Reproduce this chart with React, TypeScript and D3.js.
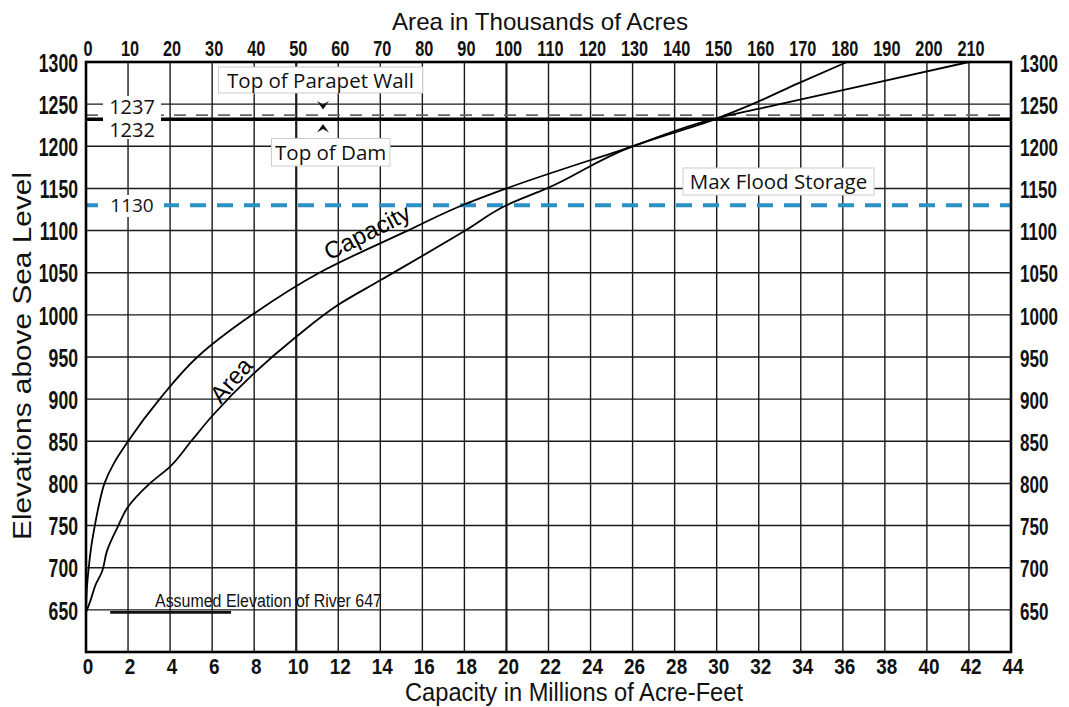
import React from "react";
import * as d3 from "d3";

// ---- data ----
const elevTicks = [650, 700, 750, 800, 850, 900, 950, 1000, 1050, 1100, 1150, 1200, 1250, 1300];
const capTicks = [0, 2, 4, 6, 8, 10, 12, 14, 16, 18, 20, 22, 24, 26, 28, 30, 32, 34, 36, 38, 40, 42, 44];
const areaTicks = [0, 10, 20, 30, 40, 50, 60, 70, 80, 90, 100, 110, 120, 130, 140, 150, 160, 170, 180, 190, 200, 210];

const capacityElev = [647, 675, 700, 725, 750, 775, 800, 825, 850, 900, 950, 1000, 1050, 1100, 1130, 1150, 1200, 1232, 1250, 1275, 1300];
const capacityMAF = [0, 0.04, 0.13, 0.25, 0.42, 0.62, 0.88, 1.35, 2.0, 3.5, 5.3, 7.9, 11.1, 15.3, 17.9, 20.0, 26.0, 29.8, 33.0, 37.5, 42.0];

const areaElev = [647, 660, 680, 694, 720, 750, 770, 800, 820, 850, 880, 930, 974, 1012, 1041, 1100, 1130, 1150, 1200, 1232, 1250, 1275, 1300];
const areaKAcres = [0, 1.0, 2.3, 3.7, 5.0, 7.7, 9.7, 15.2, 20, 25, 30, 39.8, 50, 60, 70, 90.2, 100, 109.6, 130, 149.5, 158.5, 169.5, 181];

const parapetElev = 1237;
const damElev = 1232;
const floodElev = 1130;
const riverElev = 647;

const SANS = "'Liberation Sans', Arial, sans-serif";
const NOTE = "'Open Sans', 'Noto Sans', sans-serif";

export default function App() {
  const L = 86, R = 1011, T = 62, B = 652;
  const x = d3.scaleLinear().domain([0, 44]).range([L, R]);
  const xa = d3.scaleLinear().domain([0, 220]).range([L, R]);
  const y = d3.scaleLinear().domain([600, 1300]).range([B, T]);

  const capLine = d3
    .line<number>()
    .x((d, i) => x(capacityMAF[i]))
    .y((d) => y(d))
    .curve(d3.curveMonotoneY);
  const areaLine = d3
    .line<number>()
    .x((d, i) => xa(areaKAcres[i]))
    .y((d) => y(d))
    .curve(d3.curveMonotoneY);

  const ink = "#1a1a1a";

  return (
    <svg width={1069} height={707} style={{ position: "absolute", left: 0, top: 0, background: "#fff" }}>
      <rect x={0} y={0} width={1069} height={707} fill="#fff" />
      {/* vertical grid */}
      {capTicks.slice(1, -1).map((c) => (
        <line key={"v" + c} x1={x(c)} x2={x(c)} y1={T} y2={B} stroke={ink}
          strokeWidth={c === 10 || c === 20 ? 2.2 : 1.4} />
      ))}
      {/* horizontal grid */}
      {elevTicks.slice(0, -1).map((e) => (
        <line key={"h" + e} x1={L} x2={R} y1={y(e)} y2={y(e)} stroke={ink} strokeWidth={1.4} />
      ))}
      {/* parapet, dam */}
      <line x1={L} x2={R} y1={y(parapetElev)} y2={y(parapetElev)} stroke="#666" strokeWidth={1.6} strokeDasharray="12 10" />
      <line x1={L} x2={R} y1={y(damElev)} y2={y(damElev)} stroke="#000" strokeWidth={3.5} />
      {/* flood storage */}
      <line x1={L} x2={R} y1={y(floodElev)} y2={y(floodElev)} stroke="#2b90c6" strokeWidth={4} strokeDasharray="16 11" strokeDashoffset={4} />

      {/* curves */}
      <path d={capLine(capacityElev) || ""} fill="none" stroke="#000" strokeWidth={1.8} />
      <path d={areaLine(areaElev) || ""} fill="none" stroke="#000" strokeWidth={1.8} />

      {/* frame */}
      <rect x={L} y={T} width={R - L} height={B - T} fill="none" stroke="#000" strokeWidth={2.6} />

      {/* 1237 / 1232 labels */}
      <rect x={103} y={96} width={58} height={43} fill="#fff" />
      <text x={132} y={106} fontFamily={NOTE} fontSize={20} textAnchor="middle" dominantBaseline="central" fill="#111">{parapetElev}</text>
      <text x={132} y={129} fontFamily={NOTE} fontSize={20} textAnchor="middle" dominantBaseline="central" fill="#111">{damElev}</text>

      {/* 1130 label */}
      <rect x={98} y={195} width={66} height={22} fill="#fff" />
      <text x={132} y={y(floodElev)} fontFamily={NOTE} fontSize={19} textAnchor="middle" dominantBaseline="central" fill="#111">{floodElev}</text>

      {/* annotation boxes */}
      <rect x={218.5} y={67} width={204} height={26} fill="#fff" stroke="#ccc" strokeWidth={1} />
      <text x={320.5} y={80} fontFamily={NOTE} fontSize={20.5} textAnchor="middle" dominantBaseline="central" fill="#111">Top of Parapet Wall</text>
      <rect x={271.5} y={138.5} width={118.5} height={27.5} fill="#fff" stroke="#ccc" strokeWidth={1} />
      <text x={330.7} y={152} fontFamily={NOTE} fontSize={20.5} textAnchor="middle" dominantBaseline="central" fill="#111">Top of Dam</text>
      <rect x={683} y={168} width={191} height={27} fill="#fff" stroke="#ccc" strokeWidth={1} />
      <text x={778.5} y={181} fontFamily={NOTE} fontSize={20.5} textAnchor="middle" dominantBaseline="central" fill="#111">Max Flood Storage</text>

      {/* arrowheads */}
      <path d="M317,101 L323,104.5 L329,101 L323,109.5 Z" fill="#111" />
      <path d="M317,132.5 L323,129 L329,132.5 L323,124 Z" fill="#111" />

      {/* river */}
      <line x1={x(1.15)} x2={x(6.9)} y1={y(riverElev)} y2={y(riverElev)} stroke="#111" strokeWidth={2.6} />
      <text transform="translate(155,607) scale(0.84,1)" fontFamily={SANS} fontSize={19} fill="#111">Assumed Elevation of River {riverElev}</text>

      {/* curve labels */}
      <text transform="translate(367,232) rotate(-27)" fontFamily={SANS} fontSize={24} textAnchor="middle" dominantBaseline="central" fill="#000">Capacity</text>
      <text transform="translate(231,380) rotate(-49)" fontFamily={SANS} fontSize={24} textAnchor="middle" dominantBaseline="central" fill="#000">Area</text>

      {/* left axis labels */}
      {elevTicks.map((e) => (
        <text key={"l" + e} transform={`translate(78,${y(e) + 1}) scale(0.705,1)`} fontFamily={SANS} fontWeight="bold" fontSize={25} textAnchor="end" dominantBaseline="central" fill="#111">{e}</text>
      ))}
      {/* right axis labels */}
      {elevTicks.map((e) => (
        <text key={"r" + e} transform={`translate(1020,${y(e) + 1}) scale(0.71,1)`} fontFamily={SANS} fontWeight="bold" fontSize={24} textAnchor="start" dominantBaseline="central" fill="#111">{e}</text>
      ))}
      {/* bottom labels */}
      {capTicks.map((c) => (
        <text key={"b" + c} transform={`translate(${x(c) + 2},666) scale(0.86,1)`} fontFamily={SANS} fontWeight="bold" fontSize={22} textAnchor="middle" dominantBaseline="central" fill="#111">{c}</text>
      ))}
      {/* top labels */}
      {areaTicks.map((a) => (
        <text key={"t" + a} transform={`translate(${xa(a) + 2},48) scale(0.74,1)`} fontFamily={SANS} fontWeight="bold" fontSize={22} textAnchor="middle" dominantBaseline="central" fill="#111">{a}</text>
      ))}

      {/* titles */}
      <text x={540} y={21} fontFamily={SANS} fontSize={24} textAnchor="middle" dominantBaseline="central" fill="#111" textLength={296} lengthAdjust="spacingAndGlyphs">Area in Thousands of Acres</text>
      <text x={574} y={692} fontFamily={SANS} fontSize={25} textAnchor="middle" dominantBaseline="central" fill="#111" textLength={338} lengthAdjust="spacingAndGlyphs">Capacity in Millions of Acre-Feet</text>
      <text transform="translate(22,356) rotate(-90)" fontFamily={SANS} fontSize={26} textAnchor="middle" dominantBaseline="central" fill="#111" textLength={368} lengthAdjust="spacingAndGlyphs">Elevations above Sea Level</text>
    </svg>
  );
}
